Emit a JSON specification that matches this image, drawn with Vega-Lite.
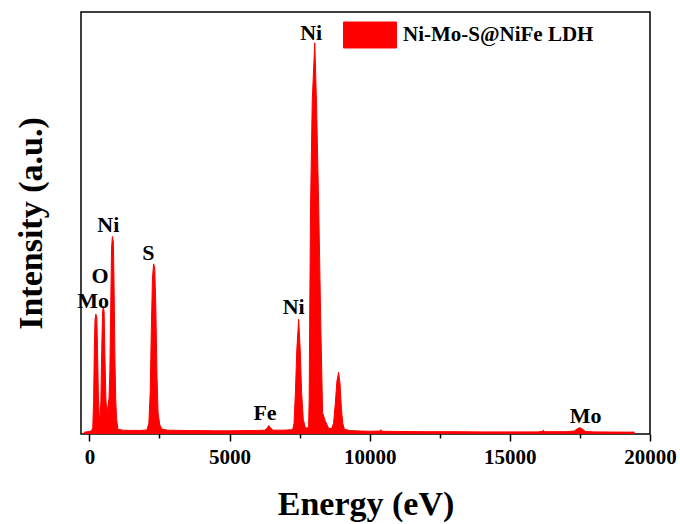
{
  "$schema": "https://vega.github.io/schema/vega-lite/v6.json",
  "width": 569,
  "height": 422,
  "autosize": "none",
  "padding": {"left": 81, "top": 12, "right": 30, "bottom": 90},
  "background": "white",
  "config": {
    "view": {"stroke": "black", "strokeWidth": 1.5},
    "font": "Liberation Serif",
    "axis": {"grid": false}
  },
  "datasets": {
    "spectrum": [
      {"energy": -200, "intensity": 0.4},
      {"energy": 0, "intensity": 0.6},
      {"energy": 80, "intensity": 0.8},
      {"energy": 120, "intensity": 1.5},
      {"energy": 150, "intensity": 8},
      {"energy": 175, "intensity": 20},
      {"energy": 200, "intensity": 27},
      {"energy": 230, "intensity": 28.4},
      {"energy": 265, "intensity": 27.5},
      {"energy": 290, "intensity": 20},
      {"energy": 320, "intensity": 9},
      {"energy": 350, "intensity": 4.5},
      {"energy": 375, "intensity": 3.3},
      {"energy": 410, "intensity": 8},
      {"energy": 440, "intensity": 20},
      {"energy": 470, "intensity": 29},
      {"energy": 495, "intensity": 30.3},
      {"energy": 525, "intensity": 29},
      {"energy": 555, "intensity": 18},
      {"energy": 590, "intensity": 8},
      {"energy": 620, "intensity": 5.3},
      {"energy": 660, "intensity": 6.5},
      {"energy": 700, "intensity": 8.5},
      {"energy": 730, "intensity": 15},
      {"energy": 760, "intensity": 30},
      {"energy": 790, "intensity": 44},
      {"energy": 820, "intensity": 46.8},
      {"energy": 855, "intensity": 45.5},
      {"energy": 880, "intensity": 35},
      {"energy": 910, "intensity": 18},
      {"energy": 940, "intensity": 8},
      {"energy": 970, "intensity": 3.5},
      {"energy": 1020, "intensity": 1.1},
      {"energy": 1200, "intensity": 0.9},
      {"energy": 1500, "intensity": 0.85},
      {"energy": 1800, "intensity": 0.85},
      {"energy": 2050, "intensity": 0.95},
      {"energy": 2120, "intensity": 2.5},
      {"energy": 2170, "intensity": 10},
      {"energy": 2210, "intensity": 25},
      {"energy": 2250, "intensity": 37},
      {"energy": 2290, "intensity": 40.3},
      {"energy": 2330, "intensity": 39.5},
      {"energy": 2370, "intensity": 30},
      {"energy": 2410, "intensity": 14},
      {"energy": 2450, "intensity": 5},
      {"energy": 2510, "intensity": 2.2},
      {"energy": 2580, "intensity": 1.2},
      {"energy": 2800, "intensity": 0.9},
      {"energy": 3200, "intensity": 0.85},
      {"energy": 3600, "intensity": 0.8},
      {"energy": 4000, "intensity": 0.8},
      {"energy": 4500, "intensity": 0.75},
      {"energy": 5000, "intensity": 0.75},
      {"energy": 5500, "intensity": 0.8},
      {"energy": 6000, "intensity": 0.85},
      {"energy": 6250, "intensity": 0.9},
      {"energy": 6330, "intensity": 1.3},
      {"energy": 6400, "intensity": 2.0},
      {"energy": 6460, "intensity": 1.5},
      {"energy": 6550, "intensity": 0.9},
      {"energy": 6900, "intensity": 0.9},
      {"energy": 7200, "intensity": 1.0},
      {"energy": 7260, "intensity": 1.2},
      {"energy": 7300, "intensity": 2.5},
      {"energy": 7350, "intensity": 10},
      {"energy": 7400, "intensity": 20},
      {"energy": 7466, "intensity": 27.2},
      {"energy": 7520, "intensity": 20},
      {"energy": 7570, "intensity": 10},
      {"energy": 7630, "intensity": 3.5},
      {"energy": 7700, "intensity": 1.5},
      {"energy": 7780, "intensity": 1.4},
      {"energy": 7820, "intensity": 1.8},
      {"energy": 7840, "intensity": 8},
      {"energy": 7855, "intensity": 24},
      {"energy": 7890, "intensity": 54},
      {"energy": 7950, "intensity": 79},
      {"energy": 8040, "intensity": 92.7},
      {"energy": 8100, "intensity": 79},
      {"energy": 8180, "intensity": 54},
      {"energy": 8260, "intensity": 24},
      {"energy": 8320, "intensity": 5},
      {"energy": 8420, "intensity": 3},
      {"energy": 8540, "intensity": 1.3},
      {"energy": 8640, "intensity": 1.3},
      {"energy": 8710, "intensity": 2.5},
      {"energy": 8770, "intensity": 7},
      {"energy": 8830, "intensity": 12.5},
      {"energy": 8890, "intensity": 14.6},
      {"energy": 8940, "intensity": 12},
      {"energy": 8990, "intensity": 6},
      {"energy": 9040, "intensity": 2.5},
      {"energy": 9100, "intensity": 1.1},
      {"energy": 9300, "intensity": 0.8},
      {"energy": 9700, "intensity": 0.7},
      {"energy": 10000, "intensity": 0.65},
      {"energy": 10350, "intensity": 0.7},
      {"energy": 10400, "intensity": 1.0},
      {"energy": 10450, "intensity": 0.65},
      {"energy": 11000, "intensity": 0.6},
      {"energy": 12000, "intensity": 0.55},
      {"energy": 13000, "intensity": 0.55},
      {"energy": 14000, "intensity": 0.5},
      {"energy": 15000, "intensity": 0.5},
      {"energy": 16000, "intensity": 0.5},
      {"energy": 16150, "intensity": 0.6},
      {"energy": 16200, "intensity": 0.9},
      {"energy": 16250, "intensity": 0.55},
      {"energy": 17000, "intensity": 0.55},
      {"energy": 17300, "intensity": 0.7},
      {"energy": 17420, "intensity": 1.3},
      {"energy": 17500, "intensity": 1.5},
      {"energy": 17580, "intensity": 1.2},
      {"energy": 17700, "intensity": 0.6},
      {"energy": 18000, "intensity": 0.5},
      {"energy": 19000, "intensity": 0.45},
      {"energy": 19450, "intensity": 0.45}
    ],
    "labels": [
      {"energy": 130, "intensity": 31.5, "label": "Mo"},
      {"energy": 379, "intensity": 37.5, "label": "O"},
      {"energy": 676, "intensity": 49.5, "label": "Ni"},
      {"energy": 2105, "intensity": 43, "label": "S"},
      {"energy": 6265, "intensity": 5.0, "label": "Fe"},
      {"energy": 7288, "intensity": 30.0, "label": "Ni"},
      {"energy": 7913, "intensity": 95.1, "label": "Ni"},
      {"energy": 17700, "intensity": 4.3, "label": "Mo"}
    ]
  },
  "layer": [
    {
      "data": {"name": "spectrum"},
      "mark": {"type": "area", "color": "#ff0000", "opacity": 1, "fillOpacity": 1, "line": {"color": "#ff0000", "strokeWidth": 1}, "clip": true},
      "encoding": {
        "x": {
          "field": "energy",
          "type": "quantitative",
          "scale": {"domain": [-300, 20000], "nice": false, "zero": false},
          "axis": {
            "title": "Energy (eV)",
            "values": [0, 2500, 5000, 7500, 10000, 12500, 15000, 17500, 20000],
            "format": "d",
            "labelExpr": "datum.value % 5000 === 0 ? datum.label : ''",
            "tickSize": {"condition": {"test": "datum.value % 5000 === 0", "value": 7}, "value": 4},
            "tickColor": "black",
            "tickWidth": 1.5,
            "domain": false,
            "labelFont": "Liberation Serif",
            "labelFontSize": 21,
            "labelFontWeight": "bold",
            "labelColor": "black",
            "labelPadding": 5,
            "labelFlush": false,
            "labelOverlap": false,
            "titleFont": "Liberation Serif",
            "titleFontSize": 34,
            "titleFontWeight": "bold",
            "titleColor": "black",
            "titlePadding": 20
          }
        },
        "y": {
          "field": "intensity",
          "type": "quantitative",
          "scale": {"domain": [0, 100], "nice": false},
          "axis": {
            "title": "Intensity (a.u.)",
            "labels": false,
            "ticks": false,
            "domain": false,
            "titleFont": "Liberation Serif",
            "titleFontSize": 34,
            "titleFontWeight": "bold",
            "titleColor": "black",
            "titlePadding": 33
          }
        },
        "color": {
          "datum": "Ni-Mo-S@NiFe LDH",
          "scale": {"range": ["#ff0000"]},
          "legend": {
            "title": null,
            "orient": "none",
            "legendX": 262,
            "legendY": -4,
            "padding": 0,
            "symbolType": "M-1,-0.49H1V0.49H-1Z",
            "symbolSize": 2809,
            "symbolStrokeColor": "#600000",
            "symbolStrokeWidth": 1,
            "symbolOpacity": 1,
            "labelFont": "Liberation Serif",
            "labelFontSize": 21,
            "labelFontWeight": "bold",
            "labelColor": "black",
            "labelOffset": 6,
            "labelLimit": 400
          }
        }
      }
    },
    {
      "data": {"name": "labels"},
      "mark": {"type": "text", "font": "Liberation Serif", "fontWeight": "bold", "fontSize": 22, "color": "black", "baseline": "middle", "align": "center"},
      "encoding": {
        "x": {"field": "energy", "type": "quantitative"},
        "y": {"field": "intensity", "type": "quantitative"},
        "text": {"field": "label"}
      }
    }
  ]
}
